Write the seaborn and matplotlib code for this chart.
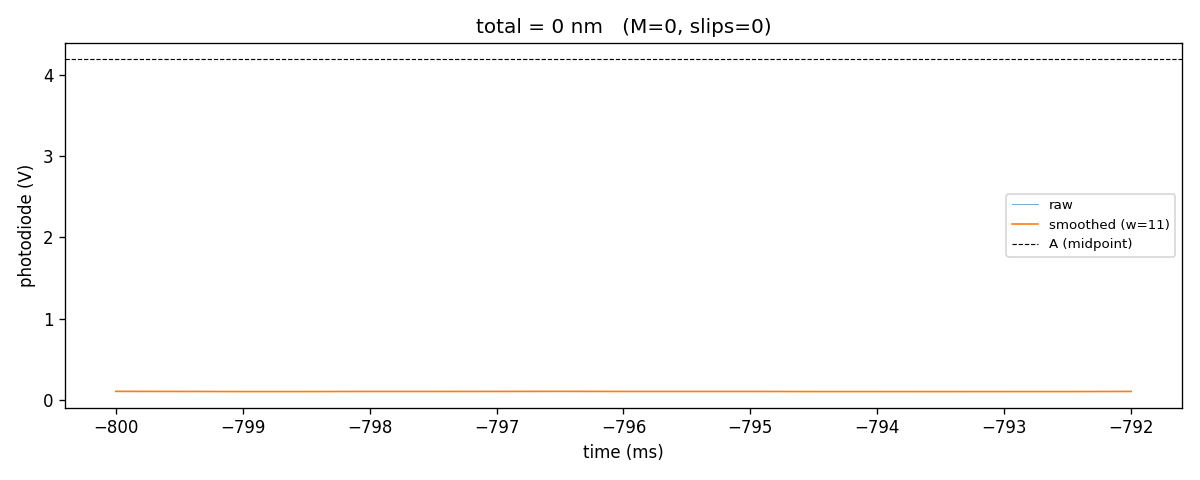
import numpy as np
import pandas as pd
import matplotlib
matplotlib.use("Agg")
import matplotlib.pyplot as plt
import seaborn as sns

# samples (flat signal near 0.1 V)
time_ms = [-800.0, -799.5, -799.0, -798.5, -798.0, -797.5, -797.0, -796.5,
           -796.0, -795.5, -795.0, -794.5, -794.0, -793.5, -793.0, -792.5, -792.0]
raw_v = [0.101, 0.100, 0.099, 0.099, 0.100, 0.100, 0.101, 0.101,
         0.100, 0.100, 0.100, 0.099, 0.099, 0.098, 0.099, 0.099, 0.100]
smooth_v = [0.101, 0.100, 0.099, 0.099, 0.100, 0.100, 0.100, 0.101,
            0.100, 0.100, 0.100, 0.099, 0.099, 0.099, 0.099, 0.099, 0.100]
midpoint_a = 4.2
title = "total = 0 nm   (M=0, slips=0)"

df = pd.DataFrame({"t": time_ms, "raw": raw_v, "smooth": smooth_v})

fig, ax = plt.subplots(figsize=(10, 4), dpi=120)
sns.lineplot(data=df, x="t", y="raw", ax=ax, color="C0", lw=0.6, alpha=0.6, label="raw")
sns.lineplot(data=df, x="t", y="smooth", ax=ax, color="C1", lw=1.0, label="smoothed (w=11)")
ax.axhline(midpoint_a, color="black", ls="--", lw=0.7, label="A (midpoint)")

ax.set_ylim(-0.1, 4.4)
ax.set_xticks(np.arange(-800, -791, 1))
ax.set_xticklabels([f"\u2212{abs(v)}" for v in range(-800, -791)])
ax.set_yticks([0, 1, 2, 3, 4])
ax.set_xlabel("time (ms)")
ax.set_ylabel("photodiode (V)")
ax.set_title(title)
ax.legend(loc="center right", fontsize=8)

plt.tight_layout()
plt.savefig("out.png")
